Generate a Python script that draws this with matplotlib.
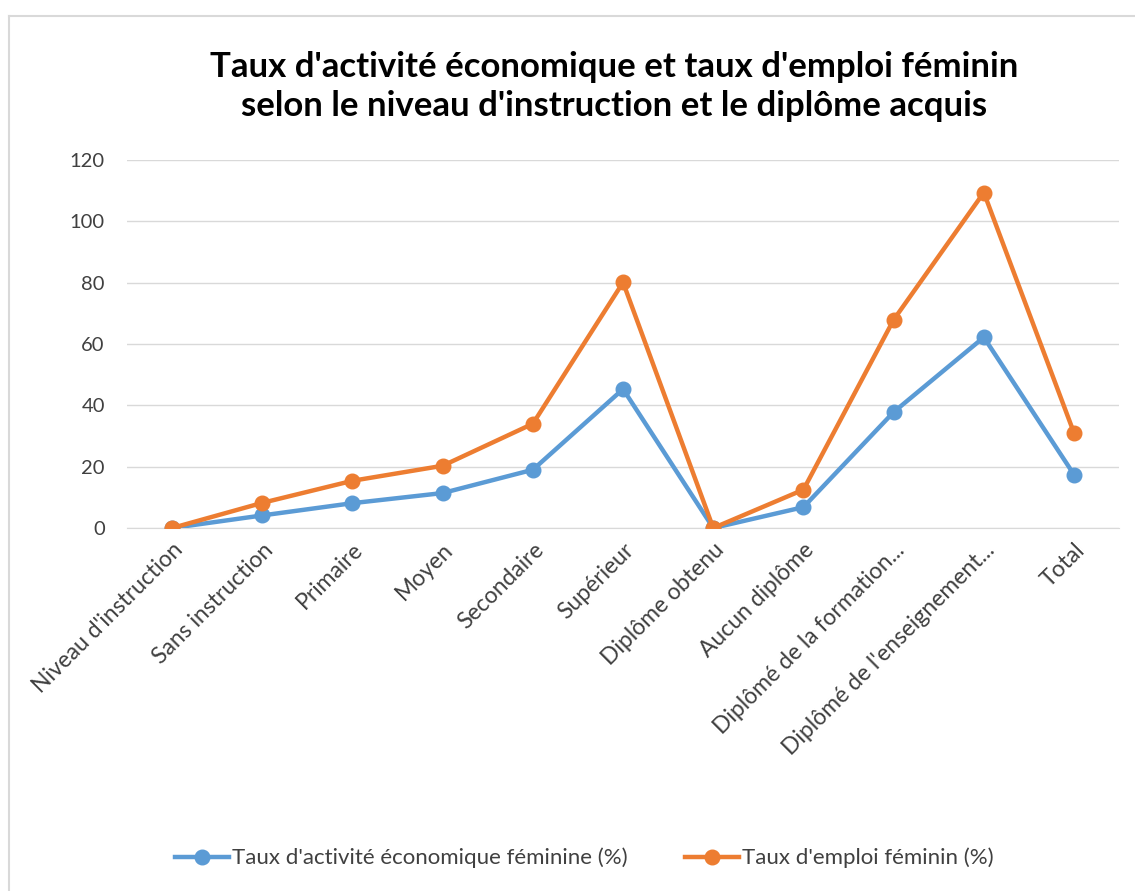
import matplotlib.pyplot as plt
from matplotlib.lines import Line2D

plt.rcParams['font.family'] = ['Lato', 'DejaVu Sans']

categories = ["Niveau d'instruction", "Sans instruction", "Primaire", "Moyen",
              "Secondaire", "Supérieur", "Diplôme obtenu", "Aucun diplôme",
              "Diplômé de la formation...", "Diplômé de l'enseignement...", "Total"]
activite = [0, 4.1, 8.1, 11.4, 19.0, 45.3, 0, 6.8, 37.8, 62.2, 17.4]
emploi = [0, 8.2, 15.4, 20.3, 34.0, 80.1, 0, 12.5, 67.9, 109.4, 31.0]

bleu = '#5B9BD5'
orange = '#ED7D31'
texte = '#404040'

fig = plt.figure(figsize=(11.35, 8.91), dpi=100)
ax = fig.add_axes([0.1119, 0.4074, 0.8741, 0.4130])

x = list(range(len(categories)))
ax.plot(x, activite, color=bleu, lw=3.2, marker='o', ms=10.5, solid_capstyle='round',
        label="Taux d'activité économique féminine (%)", zorder=3)
ax.plot(x, emploi, color=orange, lw=3.2, marker='o', ms=10.5, solid_capstyle='round',
        label="Taux d'emploi féminin (%)", zorder=4)

ax.set_xlim(-0.5, len(categories) - 0.5)
ax.set_ylim(0, 120)
ax.set_yticks(range(0, 121, 20))
ax.grid(axis='y', color='#d9d9d9', lw=1)
ax.set_axisbelow(True)
for s in ['top', 'right', 'left']:
    ax.spines[s].set_visible(False)
ax.spines['bottom'].set_color('#d9d9d9')
ax.tick_params(axis='both', length=0, labelcolor=texte)
ax.tick_params(axis='y', pad=16, labelsize=14.5)
ax.set_xticks(x)
ax.set_xticklabels(categories, rotation=45, ha='right', rotation_mode='anchor')
ax.tick_params(axis='x', pad=8, labelsize=16.5)

fig.text(0.541, 0.903, "Taux d'activité économique et taux d'emploi féminin\nselon le niveau d'instruction et le diplôme acquis",
         ha='center', va='center', fontsize=25, fontweight='bold', color='black', linespacing=1.3)

poignees = [Line2D([], [], color=bleu, lw=3.2, marker='o', ms=10.5),
            Line2D([], [], color=orange, lw=3.2, marker='o', ms=10.5)]
fig.legend(poignees, ["Taux d'activité économique féminine (%)", "Taux d'emploi féminin (%)"],
           loc='center', bbox_to_anchor=(0.515, 0.037), ncol=2, frameon=False,
           fontsize=16, labelcolor=texte, handlelength=2.4, handletextpad=0.15, columnspacing=2.6)

# bordure du graphique
fig.add_artist(Line2D([9 / 1135, 9 / 1135], [0, 1 - 16 / 891], color='#d9d9d9', lw=1.5))
fig.add_artist(Line2D([9 / 1135, 1], [1 - 16 / 891, 1 - 16 / 891], color='#d9d9d9', lw=1.5))

fig.savefig('out.png', dpi=100, facecolor='white')
